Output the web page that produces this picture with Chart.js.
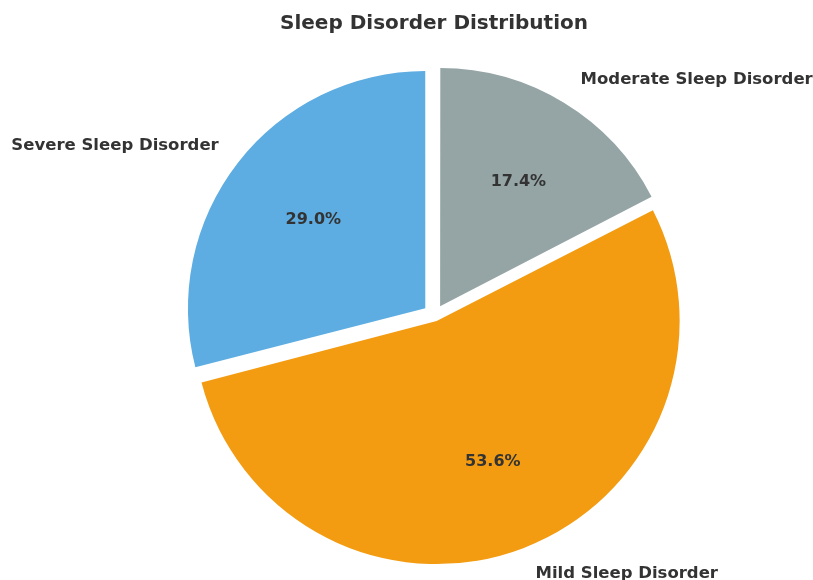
<!DOCTYPE html>
<html>
<head>
<meta charset="utf-8">
<script src="https://cdn.jsdelivr.net/npm/chart.js@4.4.1/dist/chart.umd.min.js"></script>
<style>
  html, body { margin: 0; padding: 0; background: #fff; }
  #wrap { width: 813px; height: 580px; }
</style>
</head>
<body>
<div id="wrap"><canvas id="pie"></canvas></div>
<script>
// ===== DATA =====
const categories = ["Moderate Sleep Disorder", "Mild Sleep Disorder", "Severe Sleep Disorder"];
const shares = [17.4, 53.6, 29.0];
const colors = ["#95A5A6", "#F39C12", "#5DADE2"];

const EXPLODE = 12; // px every slice is pulled out
const TEXT_DX = 2.5; // small nudge so text lines up with the reference

// Chart.js moves an arc by offset/4 * (2 - sin(min(PI, circ))),
// so pick the offset that gives the same shift for every slice
const total = shares.reduce((a, b) => a + b, 0);
const sliceOffsets = shares.map(v => {
    const circ = v / total * Math.PI * 2;
    const k = (2 - Math.sin(Math.min(Math.PI, circ))) / 4;
    return EXPLODE / k;
});

// ===== Outside labels + percentages (matplotlib style) =====
const pieLabelPlugin = {
    id: 'pieLabels',
    afterDraw(chart) {
        const { ctx } = chart;
        const meta = chart.getDatasetMeta(0);
        ctx.save();
        ctx.fillStyle = "#333333";
        ctx.textBaseline = "middle";

        meta.data.forEach((arc, i) => {
            const mid = (arc.startAngle + arc.endAngle) / 2;
            const r = arc.outerRadius;
            const cx = arc.x + Math.cos(mid) * EXPLODE + TEXT_DX;
            const cy = arc.y + Math.sin(mid) * EXPLODE;

            // percentage inside
            ctx.font = "bold 16px 'DejaVu Sans'";
            ctx.textAlign = "center";
            ctx.fillText(shares[i].toFixed(1) + "%",
                cx + Math.cos(mid) * r * 0.61,
                cy + Math.sin(mid) * r * 0.61);

            // category outside
            ctx.font = "bold 16.5px 'DejaVu Sans'";
            const lx = cx + Math.cos(mid) * r * 1.115;
            const ly = cy + Math.sin(mid) * r * 1.115;
            ctx.textAlign = Math.cos(mid) >= 0 ? "left" : "right";
            ctx.fillText(categories[i], lx, ly);
        });

        // title
        ctx.textAlign = "center";
        ctx.font = "bold 20px 'DejaVu Sans'";
        ctx.fillText("Sleep Disorder Distribution", 434, 24);
        ctx.restore();
    }
};

// ===== PIE =====
new Chart(document.getElementById("pie"), {
    type: "pie",
    data: {
        labels: categories,
        datasets: [{
            data: shares,
            backgroundColor: colors,
            borderWidth: 0,
            offset: sliceOffsets
        }]
    },
    options: {
        responsive: true,
        maintainAspectRatio: false,
        animation: false,
        radius: 237,
        layout: { padding: { left: 56, right: 0, top: 51, bottom: 0 } },
        plugins: {
            legend: { display: false },
            tooltip: { enabled: false },
            title: { display: false }
        }
    },
    plugins: [pieLabelPlugin]
});
</script>
</body>
</html>
